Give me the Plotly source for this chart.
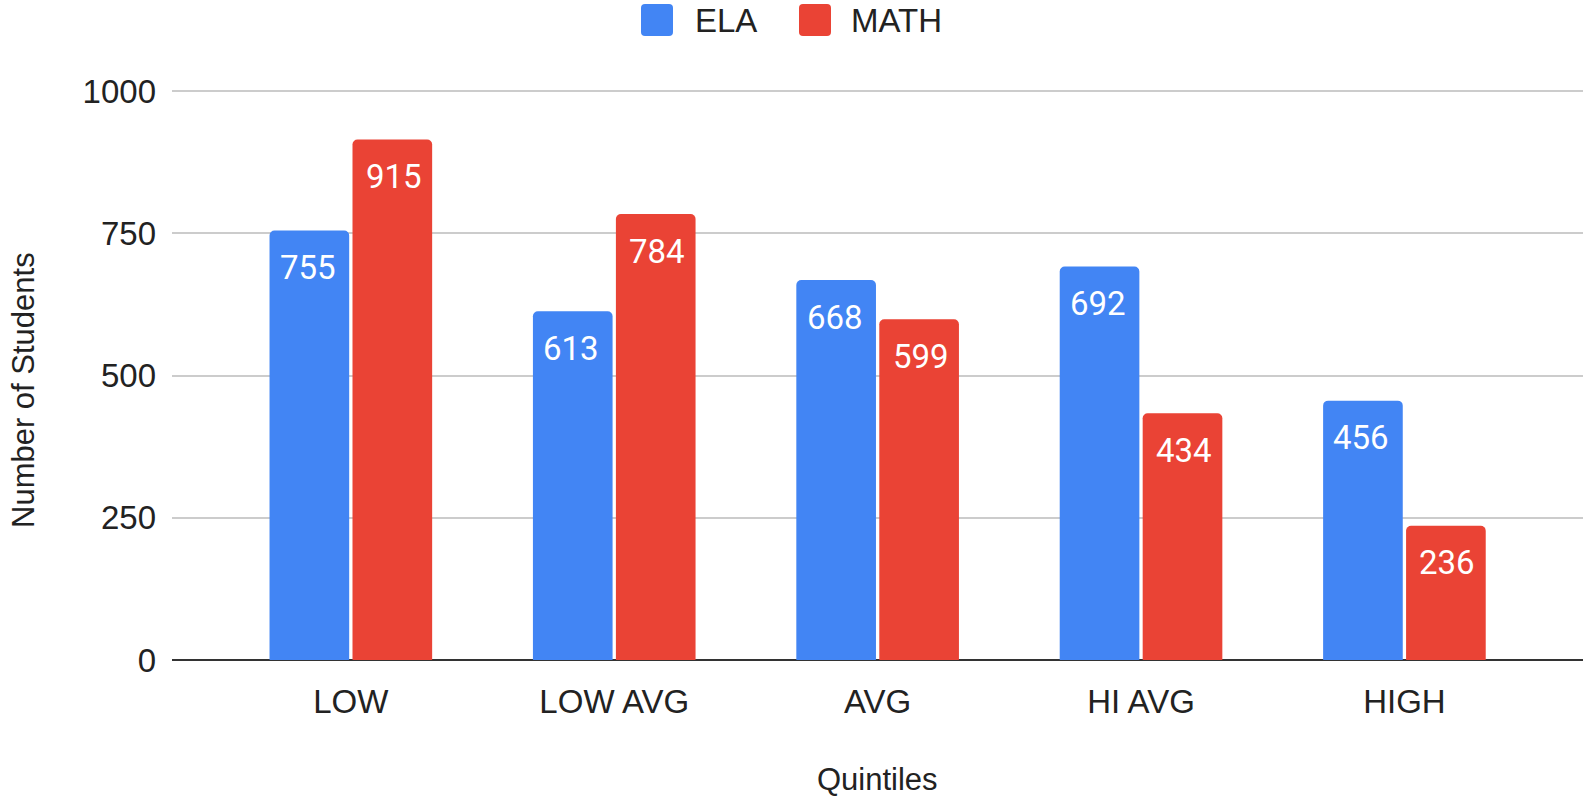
import plotly.graph_objects as go

categories = ["LOW", "LOW AVG", "AVG", "HI AVG", "HIGH"]
ela_values = [755, 613, 668, 692, 456]
math_values = [915, 784, 599, 434, 236]
y_ticks = [0, 250, 500, 750, 1000]
series_names = ["ELA", "MATH"]
x_title = "Quintiles"
y_title = "Number of Students"

BLUE = "#4285F4"
RED = "#EA4335"
AXIS_FONT = "Liberation Sans, Arial, sans-serif"
LABEL_FONT = "Roboto, sans-serif"
TXT = "#222222"

W, H = 1583, 797
ML, MR, MT, MB = 172, 0, 89, 137


def px_x(p):
    return (p - ML) / (W - ML - MR)


def px_y(p):
    return (H - MB - p) / (H - MT - MB)


fig = go.Figure()
fig.add_trace(go.Bar(name=series_names[0], x=categories, y=ela_values, marker_color=BLUE,
                     marker_line_width=0, hoverinfo="x+y", showlegend=False))
fig.add_trace(go.Bar(name=series_names[1], x=categories, y=math_values, marker_color=RED,
                     marker_line_width=0, hoverinfo="x+y", showlegend=False))

annotations = []
for series, shift in ((ela_values, -43), (math_values, 43)):
    for cat, val in zip(categories, series):
        annotations.append(dict(
            x=cat, y=val, xref="x", yref="y", text=str(val), showarrow=False,
            xshift=shift, yshift=-37, yanchor="middle",
            font=dict(family=LABEL_FONT, size=33, color="white")))

# custom legend with large rounded swatches, as in the reference
shapes = []
legend_items = [(series_names[0], BLUE, 641, 693), (series_names[1], RED, 799, 849)]
for name, color, sx, tx in legend_items:
    x0, x1 = sx, sx + 32
    top, bot = -4, -36
    r = 4
    path = (f"M{x0 + r},{top} L{x1 - r},{top} Q{x1},{top} {x1},{top - r} "
            f"L{x1},{bot + r} Q{x1},{bot} {x1 - r},{bot} L{x0 + r},{bot} "
            f"Q{x0},{bot} {x0},{bot + r} L{x0},{top - r} Q{x0},{top} {x0 + r},{top} Z")
    shapes.append(dict(type="path", xref="paper", yref="paper",
                       xsizemode="pixel", ysizemode="pixel",
                       xanchor=px_x(0), yanchor=px_y(0),
                       path=path, fillcolor=color, line=dict(width=0)))
    annotations.append(dict(x=px_x(tx), y=px_y(20), xref="paper", yref="paper",
                            text=name, showarrow=False, xanchor="left", yanchor="middle",
                            font=dict(family=AXIS_FONT, size=33, color=TXT)))

# axis titles
annotations.append(dict(x=px_x(23), y=px_y(390), xref="paper", yref="paper",
                        text=y_title, textangle=-90, showarrow=False,
                        xanchor="center", yanchor="middle",
                        font=dict(family=AXIS_FONT, size=31, color=TXT)))
annotations.append(dict(x=px_x(877), y=px_y(779), xref="paper", yref="paper",
                        text=x_title, showarrow=False,
                        xanchor="center", yanchor="middle",
                        font=dict(family=AXIS_FONT, size=31, color=TXT)))

fig.update_layout(
    width=W, height=H,
    paper_bgcolor="white", plot_bgcolor="white",
    margin=dict(l=ML, r=MR, t=MT, b=MB),
    barmode="group", bargap=0.37, bargroupgap=0.04, barcornerradius=5,
    font=dict(family=AXIS_FONT, size=33, color=TXT),
    showlegend=False,
    xaxis=dict(range=[-0.679, 4.678], showgrid=False, showline=False,
               ticks="", ticklabelstandoff=19, automargin=False,
               tickfont=dict(family=AXIS_FONT, size=33, color=TXT)),
    yaxis=dict(range=[0, 1004], tickvals=y_ticks, showgrid=True,
               gridcolor="#cccccc", gridwidth=2, zeroline=True,
               zerolinecolor="#333333", zerolinewidth=2, showline=False,
               ticks="", ticklabelstandoff=15, automargin=False,
               tickfont=dict(family=AXIS_FONT, size=33, color=TXT)),
    annotations=annotations,
    shapes=shapes,
)

fig.write_html("out.html", config={"displayModeBar": False},
               post_script="document.body.style.margin='0';")
